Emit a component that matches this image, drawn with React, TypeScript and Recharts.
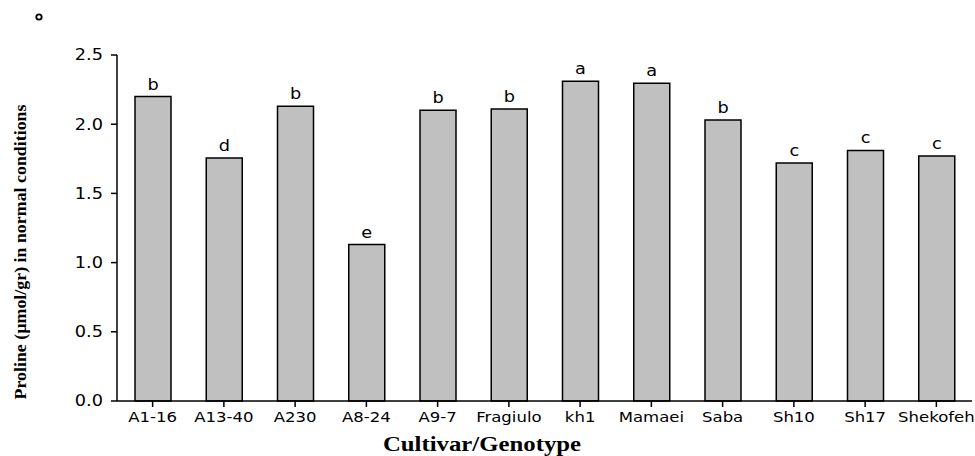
import { BarChart, Bar, XAxis, YAxis, LabelList } from 'recharts';

// Proline content per cultivar under normal conditions, with Duncan grouping letters
const cultivars = ['A1-16', 'A13-40', 'A230', 'A8-24', 'A9-7', 'Fragiulo', 'kh1', 'Mamaei', 'Saba', 'Sh10', 'Sh17', 'Shekofeh'];
const proline = [2.2, 1.755, 2.13, 1.13, 2.1, 2.11, 2.31, 2.295, 2.03, 1.72, 1.81, 1.77];
const groups = ['b', 'd', 'b', 'e', 'b', 'b', 'a', 'a', 'b', 'c', 'c', 'c'];
const yTicks = [0, 0.5, 1.0, 1.5, 2.0, 2.5];

const data = cultivars.map((name, i) => ({ name, proline: proline[i], group: groups[i] }));

const sans = 'DejaVu Sans, Verdana, sans-serif';
const serif = 'Liberation Serif, Times New Roman, serif';
// text in this figure is drawn slightly wide
const WIDE = 'scale(1.18,1)';

const XTick = ({ x, y, payload }: any) => (
  <g transform={`translate(${x},${y})`}>
    <text transform={WIDE} textAnchor="middle" dy="0.71em" fontFamily={sans} fontSize={14} fill="#000">
      {payload.value}
    </text>
  </g>
);

const YTick = ({ x, y, payload }: any) => (
  <g transform={`translate(${x},${y})`}>
    <text transform={WIDE} textAnchor="end" dy="0.355em" fontFamily={sans} fontSize={15} fill="#000">
      {Number(payload.value).toFixed(1)}
    </text>
  </g>
);

const GroupLetter = ({ x, y, width, value }: any) => (
  <g transform={`translate(${x + width / 2},${y - 7})`}>
    <text transform={WIDE} textAnchor="middle" fontFamily={sans} fontSize={15} fill="#000">
      {value}
    </text>
  </g>
);

const XTitle = () => (
  <g transform="translate(482,451)">
    <text transform={WIDE} textAnchor="middle" fontFamily={serif} fontWeight="bold" fontSize={21} fill="#000">
      Cultivar/Genotype
    </text>
  </g>
);

const YTitle = () => (
  <g transform="translate(26,252) rotate(-90)">
    <text
      textAnchor="middle"
      fontFamily={serif}
      fontWeight="bold"
      fontSize={17}
      fill="#000"
      textLength={295}
      lengthAdjust="spacingAndGlyphs"
    >
      Proline (µmol/gr) in normal conditions
    </text>
  </g>
);

export default function App() {
  return (
    <div style={{ position: 'absolute', left: 0, top: 0, width: 975, height: 456, background: '#fff' }}>
      <svg width={20} height={20} style={{ position: 'absolute', left: 30, top: 8 }}>
        <circle cx={9} cy={9} r={2.7} fill="none" stroke="#000" strokeWidth={1.8} />
      </svg>
      <BarChart
        width={975}
        height={456}
        data={data}
        margin={{ top: 55, right: 3, left: 0, bottom: 0 }}
        barSize={36}
      >
        <XAxis
          dataKey="name"
          height={55}
          interval={0}
          tickSize={6}
          tickMargin={5}
          tick={<XTick />}
          axisLine={{ stroke: '#000', strokeWidth: 1.5 }}
          tickLine={{ stroke: '#000', strokeWidth: 1.5 }}
          label={{ content: () => <XTitle /> }}
        />
        <YAxis
          width={117}
          domain={[0, 2.5]}
          ticks={yTicks}
          tickSize={6}
          tickMargin={8}
          tick={<YTick />}
          axisLine={{ stroke: '#000', strokeWidth: 1.5 }}
          tickLine={{ stroke: '#000', strokeWidth: 1.5 }}
          label={{ content: () => <YTitle /> }}
        />
        <Bar dataKey="proline" fill="#c0c0c0" stroke="#000" strokeWidth={1.5} isAnimationActive={false}>
          <LabelList dataKey="group" content={<GroupLetter />} />
        </Bar>
      </BarChart>
    </div>
  );
}
